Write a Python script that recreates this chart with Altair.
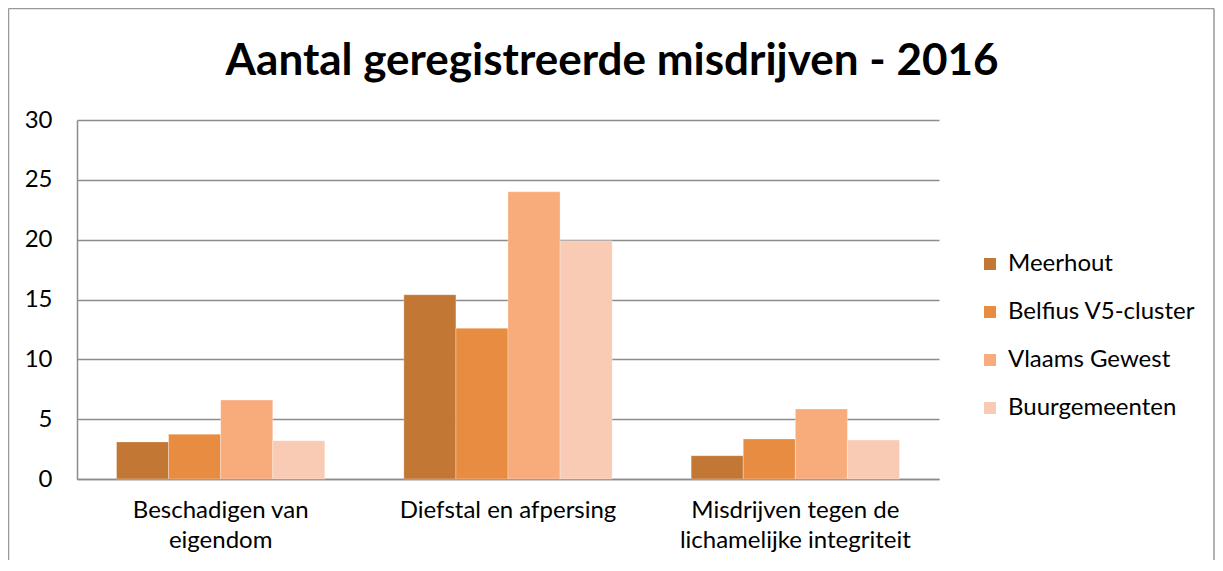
import altair as alt
import pandas as pd

title_text = "Aantal geregistreerde misdrijven - 2016"
categories = [
    "Beschadigen van eigendom",
    "Diefstal en afpersing",
    "Misdrijven tegen de lichamelijke integriteit",
]
category_lines = [
    ["Beschadigen van", "eigendom"],
    ["Diefstal en afpersing"],
    ["Misdrijven tegen de", "lichamelijke integriteit"],
]
series = ["Meerhout", "Belfius V5-cluster", "Vlaams Gewest", "Buurgemeenten"]
meerhout = [3.1, 15.4, 1.95]
belfius = [3.75, 12.6, 3.35]
vlaams = [6.6, 24.0, 5.85]
buurgemeenten = [3.2, 19.9, 3.25]
colors = ["#C37735", "#E88C41", "#F8AB7B", "#F9CAB4"]
y_ticks = [0, 5, 10, 15, 20, 25, 30]

rows = []
for s, vals in zip(series, [meerhout, belfius, vlaams, buurgemeenten]):
    for c, v in zip(categories, vals):
        rows.append({"categorie": c, "reeks": s, "waarde": v})
df = pd.DataFrame(rows)

expr = "datum.label"
for c, lines in reversed(list(zip(categories, category_lines))):
    arr = "[" + ",".join("'" + l + "'" for l in lines) + "]"
    expr = f"datum.label == '{c}' ? {arr} : ({expr})"

FONT = "Lato"
GRID = "#8c8c8c"
FS = 24

bars = alt.Chart(df).mark_bar(stroke="white", strokeWidth=0.6, strokeOpacity=0.5).encode(
    x=alt.X(
        "categorie:N",
        sort=categories,
        scale=alt.Scale(paddingInner=0.275, paddingOuter=0.1375),
        axis=alt.Axis(
            title=None, labelAngle=0, labelExpr=expr, labelFontSize=FS,
            labelFont=FONT, labelColor="black", labelPadding=19,
            labelLineHeight=30, labelLimit=400, ticks=False,
            domainColor=GRID, domainWidth=1.5, labelBaseline="top",
        ),
    ),
    xOffset=alt.XOffset("reeks:N", sort=series,
                        scale=alt.Scale(paddingInner=0, paddingOuter=0)),
    y=alt.Y(
        "waarde:Q",
        scale=alt.Scale(domain=[0, 30], nice=False),
        axis=alt.Axis(
            title=None, values=y_ticks, ticks=False, labelPadding=25,
            labelFontSize=FS, labelFont=FONT, labelColor="black",
            gridColor=GRID, gridWidth=1.5, domainColor=GRID, domainWidth=1.5,
        ),
    ),
    color=alt.Color(
        "reeks:N",
        sort=series,
        scale=alt.Scale(domain=series, range=colors),
        legend=alt.Legend(
            title=None, orient="none", legendX=901, legendY=132,
            symbolType="square", symbolSize=144, symbolStrokeWidth=0,
            rowPadding=24, labelFontSize=FS, labelFont=FONT,
            labelColor="black", labelOffset=6, labelLimit=400,
        ),
    ),
)

frame_df = pd.DataFrame({"k": [0]})
left = alt.Chart(frame_df).mark_rule(color="#999999", strokeWidth=1.5).encode(
    x=alt.value(-68.5), y=alt.value(-111.5), y2=alt.value(440))
top = alt.Chart(frame_df).mark_rule(color="#999999", strokeWidth=1.5).encode(
    x=alt.value(-68.5), x2=alt.value(1137), y=alt.value(-111.5))
right = alt.Chart(frame_df).mark_rule(color="#999999", strokeWidth=1.5).encode(
    x=alt.value(1137), y=alt.value(-111.5), y2=alt.value(440))
title = alt.Chart(frame_df).mark_text(
    fontSize=44, font=FONT, fontWeight="bold", color="black",
    align="center", baseline="alphabetic",
).encode(x=alt.value(535), y=alt.value(-45), text=alt.value(title_text))

chart = alt.layer(bars, left, top, right, title).properties(
    width=862,
    height=359,
    autosize=alt.AutoSizeParams(type="none"),
    padding={"left": 69, "top": 112, "right": 276, "bottom": 84},
).configure_view(stroke=None)

chart.save("out.html", embed_options={"renderer": "svg", "actions": False})
